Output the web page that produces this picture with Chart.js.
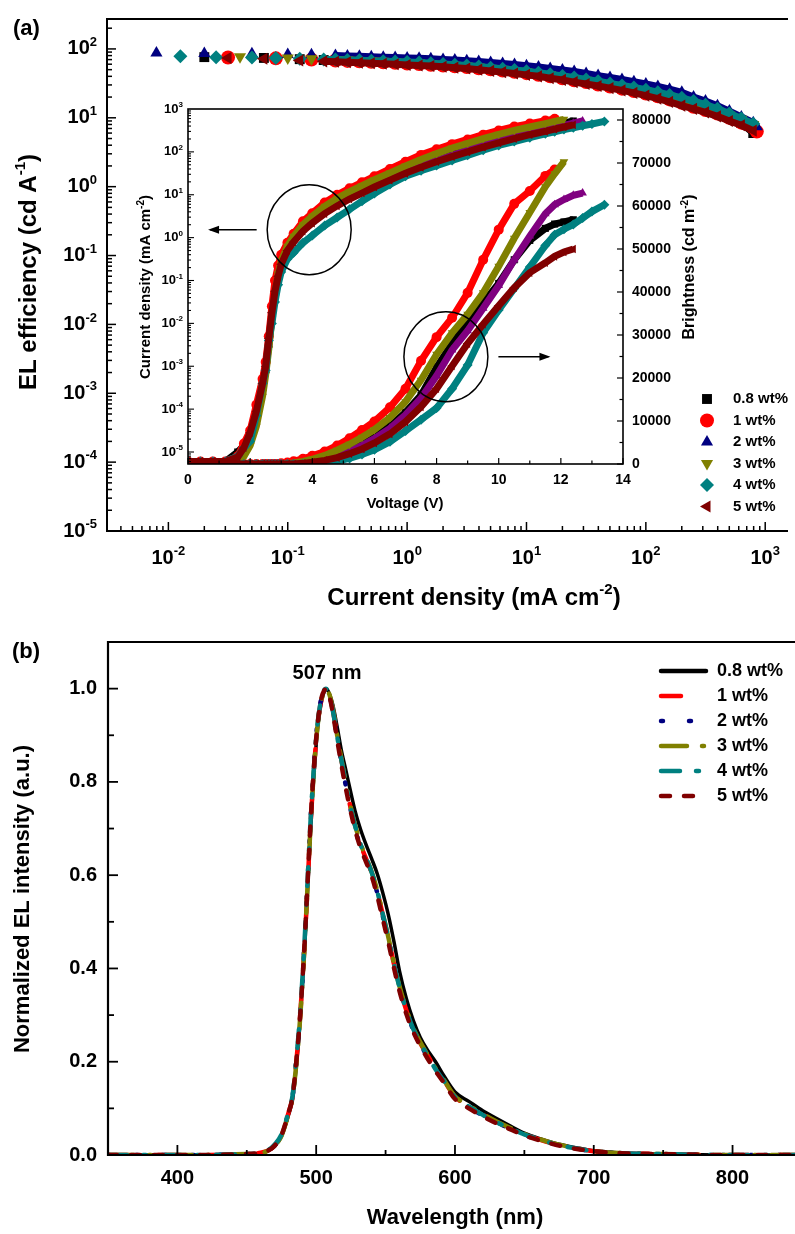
<!DOCTYPE html>
<html>
<head>
<meta charset="utf-8">
<title>EL efficiency and EL spectra</title>
<script src="https://cdn.jsdelivr.net/npm/chart.js@4.4.1/dist/chart.umd.min.js"></script>
<style>
  html, body { margin: 0; padding: 0; background: #fff; }
  #page { position: relative; width: 795px; height: 1234px; overflow: hidden; }
  #page canvas { position: absolute; left: 0; }
</style>
</head>
<body>
<div id="page">
  <canvas id="effChart" width="795" height="620" style="top:0"></canvas>
  <canvas id="insetChart" width="795" height="620" style="top:0"></canvas>
  <canvas id="specChart" width="795" height="614" style="top:620px"></canvas>
</div>
<script>
// ---------- data ----------
const names = ["0.8 wt%", "1 wt%", "2 wt%", "3 wt%", "4 wt%", "5 wt%"];

// (a) EL efficiency (cd/A) vs current density (mA/cm2)
const jGrid = [0.00794, 0.01, 0.0126, 0.0158, 0.02, 0.0251, 0.0316, 0.0398, 0.0501, 0.0631,
  0.0794, 0.1, 0.126, 0.158, 0.2, 0.251, 0.316, 0.398, 0.501, 0.631,
  0.794, 1, 1.26, 1.58, 2, 2.51, 3.16, 3.98, 5.01, 6.31,
  7.94, 10, 12.6, 15.8, 20, 25.1, 31.6, 39.8, 50.1, 63.1,
  79.4, 100, 126, 158, 200, 251, 316, 398, 501, 631, 794, 850];
const eff08 = [null,null,null,null,76,null,null,null,null,74,null,null,71,null,69,null,67,66.5,65.5,64.5,63.5,62,61,59.5,58,56.5,55,53,51,49,47,45,42.5,40.5,38,35.5,33.5,31,29,27,25,23,21,19,17,15,13.5,12,10.3,8.4,6.0,null];
const eff1 = [null,null,null,null,null,null,75,null,null,null,73,null,null,70,null,68,67,66,65,64,63,61.5,60.5,59,57.5,56,54.5,52.5,50.5,48.5,46.5,44.5,42,40,37.5,35,33,30.5,28.5,26.5,24.5,22.5,20.5,18.5,16.5,14.5,13,11.5,10,8.5,7.2,6.3];
const eff2 = [87,null,null,null,86,null,null,null,85,null,null,83,null,82,null,80,79,78,77,76,75,74,73,72,70.5,69,67.5,65.5,63.5,61.5,59.5,57,54.5,52,49.5,47,44,41,38.5,36,33.5,31,28.5,26,23.5,20,17.5,15,12.5,10.3,8.5,7.4];
const eff3 = [null,null,null,null,null,null,null,77,null,null,null,74,null,72,null,70,69,68,67,66,65,63.5,62.5,61,59.5,58,56.5,54.5,52.5,50.5,48.5,46.5,44,42,39.5,37,35,32.5,30.5,28.5,26.5,24.5,22.5,20.5,18.5,16.5,14.5,12.8,11,9.5,8.0,null];
const eff4 = [null,null,78,null,null,76,null,null,75,null,74,null,72,null,70.5,70,69,68.5,67.5,66.5,65.5,64.5,63.5,62,60.5,59,57.5,55.5,53.5,51.5,49.5,47.5,45,43,40.5,38.5,36,34,31.5,29.5,27.5,25.5,23.5,21.5,19.5,17.5,15.5,13.5,11.5,9.8,8.2,null];
const eff5 = [null,null,null,null,null,null,74,null,null,72,null,null,68,null,66,65,64,63,62,61,60,58.5,57.5,56.5,55,53.5,52,50,48,46,44,42,40,37.5,35.5,33,31,29,27,25,23,21,19,17,15,13.5,12,10.5,9,7.8,6.5,null];
const currentTickExp = [-2, -1, 0, 1, 2, 3];
const effTickExp = [-5, -4, -3, -2, -1, 0, 1, 2];

// (a) inset: current density (log10 of mA/cm2) and brightness (cd/m2) vs voltage (V)
const voltGrid = [0, 0.4, 0.8, 1.2, 1.6, 1.8, 2.0, 2.2, 2.4, 2.5, 2.6, 2.7, 2.8, 2.9, 3.0, 3.2, 3.4, 3.7, 4.0, 4.4,
  4.8, 5.2, 5.6, 6.0, 6.5, 7.0, 7.5, 8.0, 8.5, 9.0, 9.5, 10.0, 10.5, 11.0, 11.5, 11.8, 12.1, 12.4, 12.7, 13.0, 13.4];
const jv08Log = [-5.22,-5.22,-5.22,-5.22,-5.0,-4.85,-4.55,-4.0,-3.35,-3.0,-2.45,-1.8,-1.25,-0.85,-0.58,-0.25,-0.02,0.25,0.43,0.65,0.83,0.98,1.12,1.26,1.42,1.58,1.72,1.85,1.97,2.09,2.2,2.3,2.4,2.49,2.57,2.62,2.67,2.72,null,null,null];
const jv1Log = [-5.22,-5.22,-5.22,-5.22,-5.1,-4.8,-4.5,-3.9,-3.3,-2.9,-2.3,-1.6,-1.0,-0.65,-0.4,-0.12,0.09,0.38,0.57,0.82,1.0,1.15,1.29,1.43,1.6,1.77,1.93,2.06,2.18,2.29,2.4,2.5,2.59,2.66,2.73,2.77,null,null,null,null,null];
const jv2Log = [-5.22,-5.22,-5.22,-5.22,-5.15,-4.95,-4.7,-4.2,-3.5,-3.1,-2.5,-1.85,-1.3,-0.9,-0.6,-0.3,-0.08,0.18,0.37,0.59,0.77,0.93,1.07,1.21,1.37,1.53,1.67,1.8,1.92,2.04,2.15,2.25,2.35,2.44,2.52,2.57,2.62,2.67,2.72,null,null];
const jv3Log = [-5.22,-5.22,-5.22,-5.22,-5.18,-5.1,-4.85,-4.4,-3.7,-3.2,-2.6,-1.9,-1.3,-0.85,-0.55,-0.2,0.03,0.3,0.5,0.73,0.92,1.07,1.21,1.35,1.51,1.67,1.82,1.96,2.09,2.2,2.31,2.41,2.5,2.58,2.66,2.71,2.76,null,null,null,null];
const jv4Log = [-5.22,-5.22,-5.22,-5.22,-5.1,-4.9,-4.75,-4.15,-3.4,-3.1,-2.4,-2.0,-1.5,-1.1,-0.8,-0.5,-0.35,-0.12,0.05,0.28,0.47,0.66,0.85,1.03,1.24,1.43,1.56,1.68,1.8,1.92,2.04,2.15,2.24,2.33,2.42,2.47,2.52,2.56,2.61,2.65,2.71];
const jv5Log = [-5.22,-5.22,-5.22,-5.22,-5.12,-4.9,-4.55,-4.05,-3.4,-3.0,-2.35,-1.75,-1.25,-0.9,-0.62,-0.3,-0.1,0.15,0.34,0.56,0.74,0.9,1.04,1.18,1.34,1.5,1.64,1.77,1.89,2.0,2.11,2.21,2.31,2.4,2.48,2.53,2.58,2.63,null,null,null];
const lv08 = [0,0,0,0,0,0,0,0,0,0,0,0,0,0,0,0,100,350,700,1300,2200,3300,4700,6300,8800,12000,16000,22500,28000,33000,37500,42000,47500,52000,54800,55800,56300,56800,null,null,null];
const lv1 = [0,0,0,0,0,0,0,0,0,0,0,0,0,0,150,350,650,1200,1900,2900,4300,6000,7900,9900,13200,17500,24000,29500,34000,39800,47500,54500,60500,63500,67000,68500,null,null,null,null,null];
const lv2 = [0,0,0,0,0,0,0,0,0,0,0,0,0,0,0,0,80,300,600,1150,1950,3000,4300,5900,8300,11400,15300,20500,26500,31000,36200,41500,47500,53000,58200,60300,61500,62500,63000,null,null];
const lv3 = [0,0,0,0,0,0,0,0,0,0,0,0,0,0,0,100,250,600,1100,2000,3200,4600,6200,8000,10800,14500,19500,25500,30500,34800,39800,46000,52500,58500,64500,67500,70300,null,null,null,null];
const lv4 = [0,0,0,0,0,0,0,0,0,0,0,0,0,0,0,0,0,0,50,300,700,1300,2200,3300,5200,7700,10300,13000,17500,23000,30500,35800,40800,45800,50800,53300,54600,55700,57200,58700,60300];
const lv5 = [0,0,0,0,0,0,0,0,0,0,0,0,0,0,0,0,0,150,400,850,1500,2400,3500,4900,7000,9800,13300,17500,22800,28000,32500,36800,41000,44500,46800,48300,49300,50000,null,null,null];
const voltTicks = [0, 2, 4, 6, 8, 10, 12, 14];
const insetJTickExp = [-5, -4, -3, -2, -1, 0, 1, 2, 3];
const brightTicks = [0, 10000, 20000, 30000, 40000, 50000, 60000, 70000, 80000];

// (b) normalized EL spectra
const wl = [350,400,450,460,465,470,475,480,483,486,488,490,492,494,496,498,500,502,504,506,507,508,510,512,515,518,521,524,528,532,536,540,544,548,552,556,560,565,570,575,580,586,592,600,610,620,630,640,650,660,670,680,690,700,720,750,800,850];
const spec08 = [0,0,0.002,0.004,0.008,0.018,0.04,0.085,0.12,0.2,0.27,0.36,0.46,0.58,0.7,0.8,0.88,0.94,0.975,0.995,1.0,0.998,0.985,0.965,0.92,0.87,0.83,0.79,0.738,0.698,0.665,0.635,0.603,0.562,0.515,0.458,0.395,0.335,0.288,0.252,0.226,0.2,0.17,0.135,0.115,0.095,0.078,0.062,0.047,0.036,0.027,0.02,0.014,0.009,0.004,0.002,0,0];
const spec1 = [0,0,0.002,0.005,0.009,0.02,0.042,0.09,0.125,0.21,0.28,0.37,0.47,0.59,0.71,0.81,0.89,0.945,0.98,0.997,1.0,0.998,0.982,0.955,0.9,0.85,0.8,0.755,0.705,0.665,0.635,0.605,0.565,0.515,0.465,0.41,0.36,0.31,0.27,0.24,0.215,0.185,0.16,0.125,0.105,0.087,0.071,0.057,0.044,0.034,0.025,0.018,0.013,0.008,0.004,0.002,0,0];
const spec2 = [0,0,0.002,0.005,0.009,0.021,0.043,0.09,0.126,0.21,0.28,0.37,0.48,0.6,0.72,0.82,0.9,0.95,0.983,0.998,1.0,0.997,0.98,0.952,0.897,0.845,0.797,0.752,0.7,0.66,0.632,0.602,0.562,0.512,0.462,0.408,0.358,0.308,0.268,0.238,0.212,0.183,0.158,0.123,0.103,0.085,0.07,0.056,0.043,0.033,0.025,0.018,0.012,0.008,0.004,0.002,0,0];
const spec3 = [0,0,0.002,0.004,0.009,0.02,0.041,0.088,0.124,0.205,0.275,0.365,0.47,0.59,0.71,0.81,0.89,0.945,0.978,0.996,1.0,0.997,0.983,0.956,0.902,0.852,0.803,0.758,0.708,0.668,0.637,0.607,0.567,0.517,0.467,0.412,0.362,0.312,0.272,0.242,0.216,0.186,0.161,0.126,0.106,0.088,0.072,0.058,0.045,0.035,0.026,0.019,0.013,0.008,0.004,0.002,0,0];
const spec4 = [0,0,0.002,0.005,0.01,0.022,0.044,0.092,0.128,0.215,0.285,0.375,0.48,0.6,0.72,0.815,0.895,0.948,0.982,0.998,1.0,0.996,0.98,0.953,0.9,0.85,0.802,0.757,0.706,0.666,0.636,0.606,0.566,0.516,0.466,0.41,0.36,0.31,0.27,0.24,0.214,0.184,0.159,0.124,0.104,0.086,0.07,0.057,0.044,0.034,0.025,0.018,0.013,0.008,0.004,0.002,0,0];
const spec5 = [0,0,0.002,0.005,0.009,0.02,0.043,0.09,0.126,0.21,0.28,0.37,0.475,0.595,0.715,0.815,0.893,0.948,0.982,0.997,1.0,0.996,0.978,0.948,0.893,0.84,0.792,0.748,0.698,0.658,0.628,0.598,0.556,0.506,0.456,0.402,0.352,0.302,0.264,0.234,0.208,0.18,0.155,0.12,0.1,0.083,0.068,0.055,0.042,0.032,0.024,0.017,0.012,0.008,0.004,0.002,0,0];
const wlTicks = [400, 500, 600, 700, 800];
const elTicks = [0, 0.2, 0.4, 0.6, 0.8, 1.0];

// ---------- styles ----------
const colorsA = ["#000000", "#ff0000", "#000080", "#808000", "#008080", "#800000"];
const colorsInset = ["#000000", "#ff0000", "#800080", "#808000", "#008080", "#800000"];
const markers = [["rect", 0], ["circle", 0], ["triangle", 0], ["triangle", 180], ["rectRot", 0], ["triangle", 270]];
const dashes = [[], [20, 30], [2, 26], [26, 15, 2, 15], [19, 16, 3, 16], [9, 14]];
const FONT = '"Liberation Sans", Arial, sans-serif';

// ---------- drawing helpers ----------
function setFont(ctx, size){ ctx.font = "bold " + size + "px " + FONT; }
function richText(ctx, parts, x, y, align){
  let total = 0;
  const widths = parts.map(p => { setFont(ctx, p[1]); const w = ctx.measureText(p[0]).width; total += w; return w; });
  let cx = align === "right" ? x - total : align === "center" ? x - total / 2 : x;
  ctx.fillStyle = "#000"; ctx.textAlign = "left"; ctx.textBaseline = "middle";
  parts.forEach((p, i) => { setFont(ctx, p[1]); ctx.fillText(p[0], cx, y + (p[2] || 0)); cx += widths[i]; });
}
function vertText(ctx, parts, x, y){
  ctx.save(); ctx.translate(x, y); ctx.rotate(-Math.PI / 2); richText(ctx, parts, 0, 0, "center"); ctx.restore();
}
function seg(ctx, x1, y1, x2, y2, w){
  ctx.beginPath(); ctx.lineWidth = w; ctx.strokeStyle = "#000"; ctx.lineCap = "butt"; ctx.setLineDash([]);
  ctx.moveTo(x1, y1); ctx.lineTo(x2, y2); ctx.stroke();
}
function decade(e, size){ return [["10", size], [String(e), Math.round(size * 0.65), -size * 0.32]]; }
function logMinor(scale, lo, hi, fn){
  for(let d = lo; d <= hi; d++) for(let k = 1; k < 10; k++){
    const v = k * Math.pow(10, d);
    if(v >= scale.min * 0.999 && v <= scale.max * 1.001) fn(scale.getPixelForValue(v), k === 1);
  }
}
function marker(ctx, style, rot, x, y, r, color){
  ctx.save(); ctx.fillStyle = color; ctx.translate(x, y); ctx.rotate(rot * Math.PI / 180); ctx.beginPath();
  if(style === "circle") ctx.arc(0, 0, r, 0, 2 * Math.PI);
  else if(style === "rect"){ const s = r * Math.SQRT1_2; ctx.rect(-s, -s, 2 * s, 2 * s); }
  else if(style === "rectRot"){ ctx.moveTo(0, -r); ctx.lineTo(r, 0); ctx.lineTo(0, r); ctx.lineTo(-r, 0); ctx.closePath(); }
  else { ctx.moveTo(0, -r); ctx.lineTo(r * 0.866, r * 0.5); ctx.lineTo(-r * 0.866, r * 0.5); ctx.closePath(); }
  ctx.fill(); ctx.restore();
}
function arrow(ctx, x1, y, x2){
  seg(ctx, x1, y, x2, y, 1.5);
  const d = x2 > x1 ? 1 : -1;
  ctx.beginPath(); ctx.fillStyle = "#000";
  ctx.moveTo(x2 + d * 2, y); ctx.lineTo(x2 - d * 9, y - 4); ctx.lineTo(x2 - d * 9, y + 4); ctx.closePath(); ctx.fill();
}

// ---------- plugins drawing frames, ticks and text ----------
const effFrame = {
  id: "effFrame",
  afterDraw(chart){
    const { ctx, chartArea: a } = chart;
    const sx = chart.scales.x, sy = chart.scales.y;
    ctx.save();
    logMinor(sx, -3, 3, (p, major) => seg(ctx, p, a.bottom, p, a.bottom - (major ? 9 : 5), 1.5));
    logMinor(sy, -6, 2, (p, major) => seg(ctx, a.left, p, a.left + (major ? 9 : 5), p, 1.5));
    seg(ctx, a.left, a.top, a.right, a.top, 2);
    seg(ctx, a.left, a.top - 1, a.left, a.bottom + 1, 2);
    seg(ctx, a.left, a.bottom, a.right, a.bottom, 2);
    currentTickExp.forEach(e => richText(ctx, decade(e, 20), sx.getPixelForValue(Math.pow(10, e)), 558, "center"));
    effTickExp.forEach(e => richText(ctx, decade(e, 20), 97, sy.getPixelForValue(Math.pow(10, e)), "right"));
    richText(ctx, [["Current density (mA cm", 24], ["-2", 15, -8], [")", 24]], 474, 598, "center");
    vertText(ctx, [["EL efficiency (cd A", 24], ["-1", 15, -8], [")", 24]], 29, 272);
    richText(ctx, [["(a)", 22]], 13, 29, "left");
    names.forEach((n, i) => {
      const ly = 399 + i * 21.5;
      marker(ctx, markers[i][0], markers[i][1], 707, ly, 7, colorsA[i]);
      richText(ctx, [[n, 15]], 733, ly, "left");
    });
    ctx.restore();
  }
};

const insetFrame = {
  id: "insetFrame",
  afterDraw(chart){
    const { ctx, chartArea: a } = chart;
    const sx = chart.scales.x, sj = chart.scales.yJ, sl = chart.scales.yL;
    ctx.save();
    for(let v = 0; v <= 14; v++){ const p = sx.getPixelForValue(v); seg(ctx, p, a.bottom, p, a.bottom - (v % 2 === 0 ? 6 : 3.5), 1.2); }
    logMinor(sj, -6, 2, (p, major) => seg(ctx, a.left, p, a.left + (major ? 6 : 3), p, 1.1));
    for(let v = 0; v <= 80000; v += 5000){ const p = sl.getPixelForValue(v); seg(ctx, a.right, p, a.right - (v % 10000 === 0 ? 6 : 3.5), p, 1.2); }
    ctx.lineWidth = 1.6; ctx.strokeStyle = "#000"; ctx.strokeRect(a.left, a.top, a.right - a.left, a.bottom - a.top);
    voltTicks.forEach(v => richText(ctx, [[String(v), 14]], sx.getPixelForValue(v), 480, "center"));
    insetJTickExp.forEach(e => richText(ctx, decade(e, 13), 183, sj.getPixelForValue(Math.pow(10, e)), "right"));
    brightTicks.forEach(v => richText(ctx, [[String(v), 14]], 632, sl.getPixelForValue(v), "left"));
    richText(ctx, [["Voltage (V)", 15]], 405, 504, "center");
    vertText(ctx, [["Current density (mA cm", 15], ["-2", 10, -5], [")", 15]], 146, 287);
    vertText(ctx, [["Brightness (cd m", 16], ["-2", 10, -5], [")", 16]], 690, 267);
    // circled groups with arrows toward their axes
    ctx.lineWidth = 1.5; ctx.strokeStyle = "#000"; ctx.setLineDash([]);
    ctx.beginPath(); ctx.ellipse(sx.getPixelForValue(3.9), sj.getPixelForValue(1.53), 42, 45, 0, 0, 2 * Math.PI); ctx.stroke();
    ctx.beginPath(); ctx.ellipse(sx.getPixelForValue(8.3), sl.getPixelForValue(24950), 42, 45, 0, 0, 2 * Math.PI); ctx.stroke();
    arrow(ctx, sx.getPixelForValue(2.21), sj.getPixelForValue(1.53), sx.getPixelForValue(0.71));
    arrow(ctx, sx.getPixelForValue(9.99), sl.getPixelForValue(24950), sx.getPixelForValue(11.6));
    ctx.restore();
  }
};

const specFrame = {
  id: "specFrame",
  afterDraw(chart){
    const { ctx, chartArea: a } = chart;
    const sx = chart.scales.x, sy = chart.scales.y;
    ctx.save();
    for(let v = 350; v <= sx.max; v += 50){ const p = sx.getPixelForValue(v); seg(ctx, p, a.bottom, p, a.bottom - (v % 100 === 0 ? 10 : 5), 1.8); }
    for(let k = 0; k <= 11; k++){ const p = sy.getPixelForValue(k / 10); seg(ctx, a.left, p, a.left + (k % 2 === 0 ? 10 : 6), p, 1.8); }
    seg(ctx, a.left, a.top, a.right, a.top, 2.2);
    seg(ctx, a.left, a.top - 1, a.left, a.bottom + 1, 2.2);
    seg(ctx, a.left, a.bottom, a.right, a.bottom, 2.2);
    wlTicks.forEach(v => richText(ctx, [[String(v), 20]], sx.getPixelForValue(v), 558, "center"));
    elTicks.forEach(v => richText(ctx, [[v.toFixed(1), 20]], 97, sy.getPixelForValue(v), "right"));
    richText(ctx, [["Wavelength (nm)", 22]], 455, 598, "center");
    vertText(ctx, [["Normalized EL intensity (a.u.)", 22]], 23, 279);
    richText(ctx, [["(b)", 22]], 12, 32, "left");
    richText(ctx, [["507 nm", 20]], 327, 53, "center");
    names.forEach((n, i) => {
      const ly = 51 + i * 25;
      ctx.beginPath(); ctx.strokeStyle = colorsA[i]; ctx.lineWidth = 4.5; ctx.lineCap = "round";
      ctx.setLineDash(dashes[i]); ctx.moveTo(661, ly); ctx.lineTo(706, ly); ctx.stroke(); ctx.setLineDash([]);
      richText(ctx, [[n, 18]], 717, ly, "left");
    });
    ctx.restore();
  }
};

// ---------- charts ----------
const effSeries = [eff08, eff1, eff2, eff3, eff4, eff5];
new Chart(document.getElementById("effChart").getContext("2d"), {
  type: "scatter",
  data: { datasets: effSeries.map((ys, i) => ({
    label: names[i],
    data: jGrid.map((x, k) => ({ x, y: ys[k] })),
    showLine: true, spanGaps: false,
    borderColor: colorsA[i], backgroundColor: colorsA[i], borderWidth: 7,
    pointStyle: markers[i][0], pointRotation: markers[i][1], pointRadius: 7, pointBorderWidth: 0,
    order: 5 - i
  })) },
  options: {
    responsive: false, animation: false,
    layout: { padding: { left: 107, top: 19, right: 0, bottom: 89 } },
    plugins: { legend: { display: false }, tooltip: { enabled: false } },
    scales: {
      x: { type: "logarithmic", min: 0.00306, max: 1552, display: false },
      y: { type: "logarithmic", min: 1e-5, max: 272, display: false }
    }
  },
  plugins: [effFrame]
});

const jvSeries = [jv08Log, jv1Log, jv2Log, jv3Log, jv4Log, jv5Log];
const lvSeries = [lv08, lv1, lv2, lv3, lv4, lv5];
const insetSets = [];
jvSeries.forEach((ys, i) => insetSets.push({
  yAxisID: "yJ",
  data: voltGrid.map((x, k) => ({ x, y: ys[k] == null ? null : Math.pow(10, ys[k]) })),
  showLine: true, borderColor: colorsInset[i], backgroundColor: colorsInset[i], borderWidth: 7,
  pointStyle: markers[i][0], pointRotation: markers[i][1], pointRadius: 5, pointBorderWidth: 0,
  clip: 0, order: 5 - i
}));
lvSeries.forEach((ys, i) => insetSets.push({
  yAxisID: "yL",
  data: voltGrid.map((x, k) => ({ x, y: ys[k] })),
  showLine: true, borderColor: colorsInset[i], backgroundColor: colorsInset[i], borderWidth: 7,
  pointStyle: markers[i][0], pointRotation: markers[i][1], pointRadius: 5, pointBorderWidth: 0,
  clip: 0, order: 5 - i
}));
new Chart(document.getElementById("insetChart").getContext("2d"), {
  type: "scatter",
  data: { datasets: insetSets },
  options: {
    responsive: false, animation: false,
    layout: { padding: { left: 188, top: 109, right: 172, bottom: 156 } },
    plugins: { legend: { display: false }, tooltip: { enabled: false } },
    scales: {
      x: { type: "linear", min: 0, max: 14, display: false },
      yJ: { type: "logarithmic", position: "left", min: 5.25e-6, max: 1000, display: false },
      yL: { type: "linear", position: "right", min: 0, max: 82558, display: false }
    }
  },
  plugins: [insetFrame]
});

const specSeries = [spec08, spec1, spec2, spec3, spec4, spec5];
new Chart(document.getElementById("specChart").getContext("2d"), {
  type: "scatter",
  data: { datasets: specSeries.map((ys, i) => ({
    label: names[i],
    data: wl.map((x, k) => ({ x, y: ys[k] })),
    showLine: true, pointRadius: 0, borderColor: colorsA[i],
    borderWidth: i === 0 ? 3.5 : 4.5, borderDash: dashes[i], borderCapStyle: "round",
    cubicInterpolationMode: "monotone", order: 5 - i
  })) },
  options: {
    responsive: false, animation: false,
    layout: { padding: { left: 108, top: 22, right: 0, bottom: 79 } },
    plugins: { legend: { display: false }, tooltip: { enabled: false } },
    scales: {
      x: { type: "linear", min: 350, max: 845, display: false },
      y: { type: "linear", min: 0, max: 1.1, display: false }
    }
  },
  plugins: [specFrame]
});
</script>
</body>
</html>
